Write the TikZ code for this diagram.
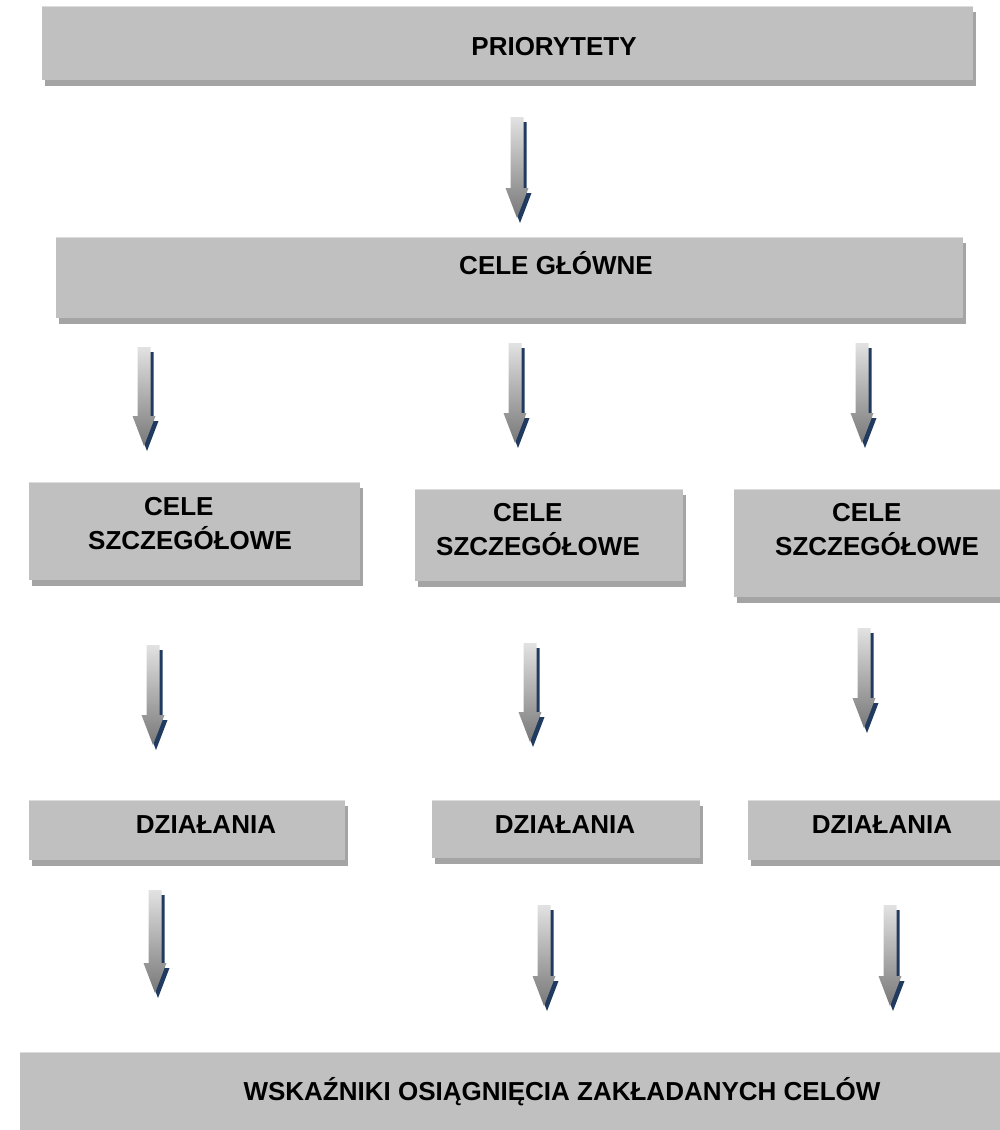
\documentclass[tikz,border=0pt]{standalone}
\usepackage{fontspec}
\setmainfont{Liberation Sans}
\usetikzlibrary{calc,shadows}

\definecolor{boxgray}{HTML}{C0C0C0}
\definecolor{boxshade}{HTML}{A4A4A4}
\definecolor{boxtop}{HTML}{DCDCDC}
\definecolor{arrtop}{HTML}{E2E2E2}
\definecolor{arrbot}{HTML}{787878}
\definecolor{arrblue}{HTML}{203A60}

% block arrow from #1 (top of shaft) to #2 (tip)
\newcommand{\blockarr}[2]{%
  \fill[arrblue] let \p1=(#1), \p2=(#2) in
    (\x1-3.5pt,\y1-5pt) -- (\x1+9.5pt,\y1-5pt) -- (\x1+9.5pt,\y2+25pt) -- (\x1+14.5pt,\y2+25pt)
    -- (\x2+3pt,\y2-5pt) -- (\x1-8.5pt,\y2+25pt) -- (\x1-3.5pt,\y2+25pt) -- cycle;
  \shade[top color=arrtop, bottom color=arrbot] let \p1=(#1), \p2=(#2) in
    (\x1-6.5pt,\y1) -- (\x1+6.5pt,\y1) -- (\x1+6.5pt,\y2+30pt) -- (\x1+11.5pt,\y2+30pt)
    -- (\x2,\y2) -- (\x1-11.5pt,\y2+30pt) -- (\x1-6.5pt,\y2+30pt) -- cycle;
}

\begin{document}
\begin{tikzpicture}[x=1pt,y=-1pt,
    box/.style={fill=boxgray, inner sep=0pt,
        drop shadow={shadow xshift=3pt, shadow yshift=-6pt, fill=boxshade, opacity=1},
        path picture={\draw[line width=1.5pt, boxtop] (path picture bounding box.north west) -- (path picture bounding box.north east);}},
    lbl/.style={font=\fontsize{26}{34}\selectfont\bfseries, inner sep=0pt, align=left}]
    \useasboundingbox (0,0) rectangle (999,1130);

    \node[box, minimum width=931pt, minimum height=74pt] (prio) at (507.5,43) {};
    \node[box, minimum width=907pt, minimum height=81pt] (glowne) at (509.5,277.5) {};
    \node[box, minimum width=331pt, minimum height=98pt] (sz1) at (194.5,531) {};
    \node[box, minimum width=268pt, minimum height=92pt] (sz2) at (549,535) {};
    \node[box, minimum width=275pt, minimum height=108pt] (sz3) at (871.5,543) {};
    \node[box, minimum width=316pt, minimum height=60pt] (dz1) at (187,830) {};
    \node[box, minimum width=268pt, minimum height=58pt] (dz2) at (566,829) {};
    \node[box, minimum width=260pt, minimum height=60pt] (dz3) at (878,830) {};
    \node[box, minimum width=990pt, minimum height=90pt] (wsk) at (515,1097) {};

    \node[lbl] (prio-t) at (554,47) {PRIORYTETY};
    \node[lbl] (glowne-t) at (556,263) {CELE GŁÓWNE};
    \node[lbl] (sz1-t) at (190,524) {\hspace*{56pt}CELE\\SZCZEGÓŁOWE};
    \node[lbl] (sz2-t) at (538,530) {\hspace*{57pt}CELE\\SZCZEGÓŁOWE};
    \node[lbl] (sz3-t) at (877,530) {\hspace*{57pt}CELE\\SZCZEGÓŁOWE};
    \node[lbl] (dz1-t) at (206,825) {DZIAŁANIA};
    \node[lbl] (dz2-t) at (565,825) {DZIAŁANIA};
    \node[lbl] (dz3-t) at (882,825) {DZIAŁANIA};
    \node[lbl] (wsk-t) at (562,1092) {WSKAŹNIKI OSIĄGNIĘCIA ZAKŁADANYCH CELÓW};

    \foreach \k/\xa/\ya/\yb in {a0/517/117/218,
        b1/144/347/446, b2/515/343/443, b3/862/343/443,
        c1/153/645/745, c2/530/643/742, c3/864/628/728,
        d1/155/890/993, d2/544/905/1006, d3/890/905/1006}
    {
        \coordinate (\k s) at (\xa,\ya);
        \coordinate (\k e) at (\xa,\yb);
        \blockarr{\k s}{\k e}
    }

\end{tikzpicture}
\end{document}
